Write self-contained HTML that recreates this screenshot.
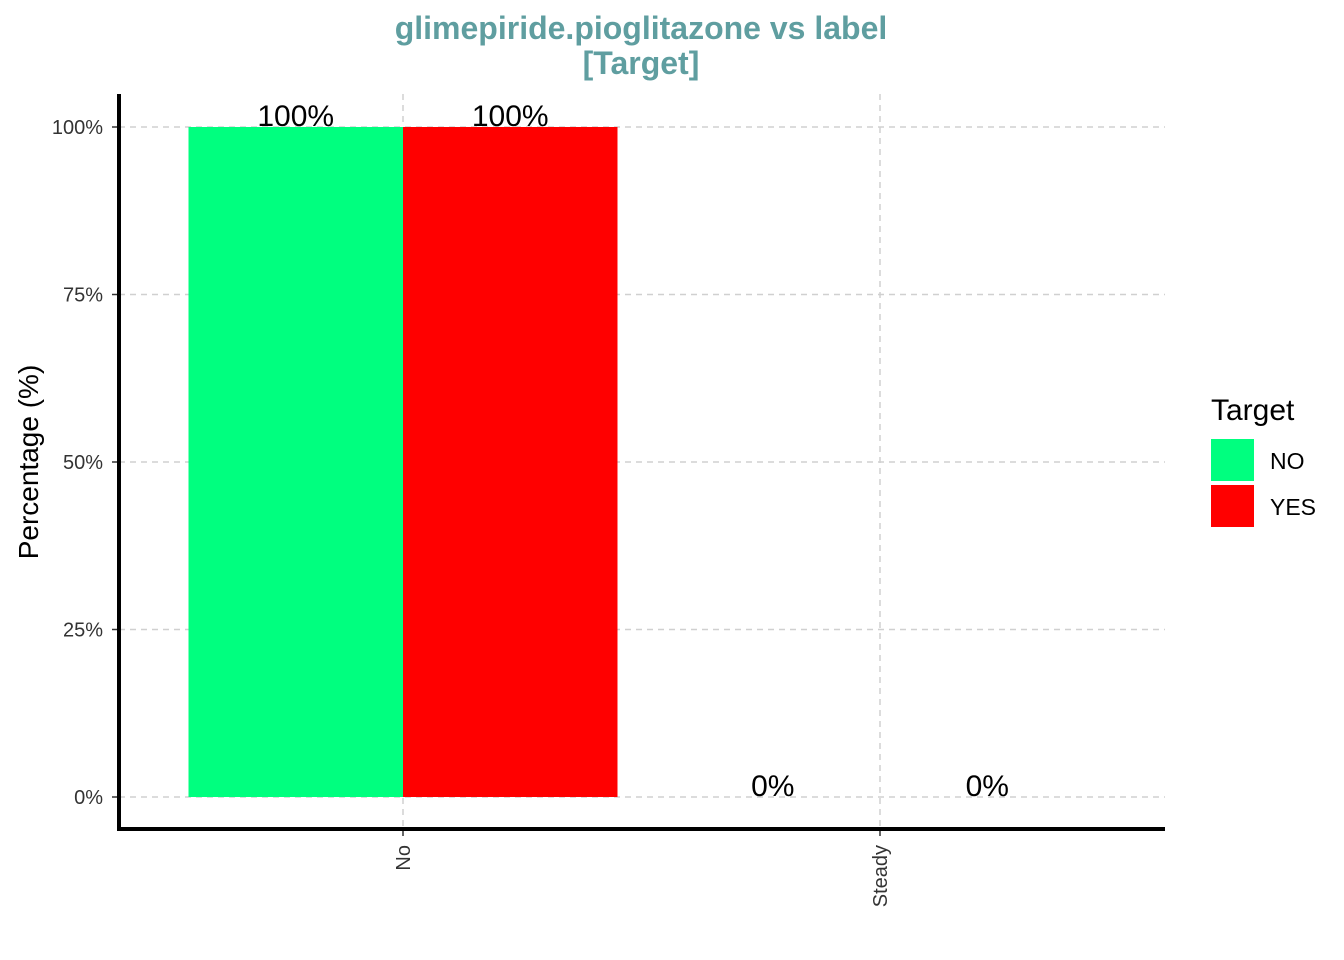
<!DOCTYPE html>
<html><head><meta charset="utf-8"><style>body{margin:0;background:#fff}svg{display:block;font-family:"Liberation Sans",Arial,sans-serif}</style></head>
<body>
<svg id="chart" width="1344" height="960">
<text x="641" y="39" text-anchor="middle" font-size="32" font-weight="bold" fill="#5F9EA0">glimepiride.pioglitazone vs label</text>
<text x="641" y="74" text-anchor="middle" font-size="32" font-weight="bold" fill="#5F9EA0">[Target]</text>
<g id="grid"></g>
<g id="bars"></g>
<g id="axes"></g>
<text transform="translate(38,462) rotate(-90)" text-anchor="middle" font-size="28" fill="#000">Percentage (%)</text>
<text x="1211" y="420" font-size="30" fill="#000">Target</text>
<rect x="1211" y="439" width="43" height="42" fill="#00FF7F"/>
<text x="1270" y="469" font-size="23">NO</text>
<rect x="1211" y="485" width="43" height="42" fill="#FF0000"/>
<text x="1270" y="515" font-size="23">YES</text>
</svg>
<script>
const categories = ["No", "Steady"];
const seriesNames = ["NO", "YES"];
const valuesNO = [100, 0];
const valuesYES = [100, 0];
const yTicks = [0, 25, 50, 75, 100];
const yTickLabels = ["0%", "25%", "50%", "75%", "100%"];
const colors = ["#00FF7F", "#FF0000"];
const NS = "http://www.w3.org/2000/svg";
function y(v){ return 797 - (v/100)*670; }
function x(i){ return 403 + i*477; }
function mk(tag, attrs, parent, txt){ const e=document.createElementNS(NS,tag); for(const k in attrs) e.setAttribute(k,attrs[k]); if(txt!==undefined) e.textContent=txt; document.getElementById(parent).appendChild(e); return e; }
yTicks.forEach((t,i)=>{
  const g = mk("line",{x1:119,x2:1165,y1:y(t),y2:y(t),stroke:"#d0d0d0","stroke-width":1.5,"stroke-dasharray":"6,5"},"grid");
  
  
  const tl = mk("text",{x:103,y:y(t)+7,"text-anchor":"end","font-size":20,fill:"#333"},"axes",yTickLabels[i]);
  
  
  const tk = mk("line",{x1:112,x2:119,y1:y(t),y2:y(t),stroke:"#333","stroke-width":1.5},"axes");
  
  
});
categories.forEach((c,i)=>{
  const g = mk("line",{x1:x(i),x2:x(i),y1:94,y2:829,stroke:"#d0d0d0","stroke-width":1.5,"stroke-dasharray":"6,5"},"grid");
  
  
  const tl = mk("text",{transform:`translate(${x(i)+7},845) rotate(-90)`,"text-anchor":"end","font-size":20,fill:"#333"},"axes",c);
  
  
  const tk = mk("line",{x1:x(i),x2:x(i),y1:829,y2:836,stroke:"#333","stroke-width":1.5},"axes");
  
  
});
const bw = 214.5;
[valuesNO, valuesYES].forEach((vals,s)=>{
  vals.forEach((v,i)=>{
    const bx = x(i) - bw + s*bw;
    const r = mk("rect",{x:bx,y:y(v),width:bw,height:y(0)-y(v),fill:colors[s]},"bars");
    
    
    const t = mk("text",{x:bx+bw/2,y:y(v)-1,"text-anchor":"middle","font-size":30,fill:"#000"},"bars",v+"%");
    
    
  });
});
const ya = mk("line",{x1:119,x2:119,y1:94,y2:831,stroke:"#000","stroke-width":4},"axes");


const xa = mk("line",{x1:117,x2:1165,y1:829,y2:829,stroke:"#000","stroke-width":4},"axes");


</script>
</body></html>
